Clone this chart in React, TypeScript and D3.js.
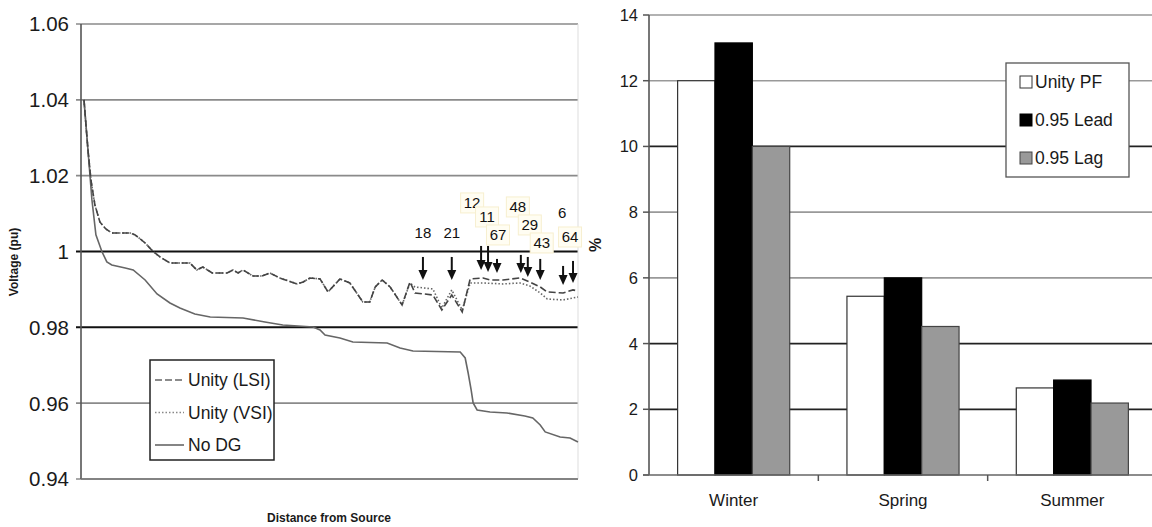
import React from "react";
import * as d3 from "d3";

// ---------- Left chart data (distance in arbitrary units 0-100, voltage pu) ----------
const noDgDist = [0.6, 1.4, 2.2, 3.0, 4.2, 5.2, 6.2, 8.9, 10.5, 12.9, 15.3, 17.9, 19.9, 22.9, 26, 32.6, 37, 40.6, 46.7, 48.1, 49.1, 52.1, 54.7, 61.6, 64.2, 66.8, 76.3, 77.3, 77.9, 78.5, 78.9, 79.7, 82.3, 85.7, 89.3, 90.9, 92.4, 93.4, 96.4, 98.4, 100];
const noDgVolt = [1.04, 1.0268, 1.0136, 1.0044, 1.0, 0.99724, 0.99644, 0.99566, 0.99513, 0.99249, 0.9888, 0.98643, 0.9851, 0.98352, 0.98273, 0.98247, 0.98141, 0.98062, 0.98009, 0.9793, 0.97798, 0.97719, 0.97614, 0.97587, 0.97455, 0.97377, 0.9735, 0.97192, 0.96796, 0.96349, 0.96006, 0.95821, 0.95768, 0.95742, 0.95663, 0.9561, 0.95426, 0.95241, 0.95109, 0.95083, 0.94977];

const lsiDist = [0.6, 1.4, 2.0, 2.8, 3.8, 5.0, 6.2, 9.9, 10.9, 12.9, 14.5, 15.9, 17.9, 21.9, 23.3, 24.5, 26.4, 29.4, 30.6, 31.6, 32.6, 34.6, 36.4, 38.0, 40.0, 43.5, 44.7, 46.1, 48.1, 49.7, 52.1, 54.1, 56.7, 58.1, 59.2, 60.6, 62.2, 64.6, 66.2, 67.2, 70.8, 72.6, 74.6, 76.7, 78.3, 80.9, 82.3, 84.9, 88.3, 90.3, 92.4, 93.8, 97.0, 99.0, 100];
const lsiVolt = [1.04, 1.0268, 1.01886, 1.01227, 1.00779, 1.00594, 1.00489, 1.00489, 1.00436, 1.00225, 1.0, 0.99856, 0.99698, 0.99698, 0.99513, 0.99592, 0.99434, 0.99434, 0.99513, 0.99434, 0.99513, 0.99355, 0.99355, 0.99434, 0.99302, 0.99144, 0.99196, 0.99302, 0.99276, 0.98933, 0.99276, 0.9917, 0.98669, 0.98669, 0.99065, 0.99249, 0.99065, 0.9859, 0.99196, 0.98906, 0.98854, 0.98458, 0.98854, 0.98405, 0.99276, 0.99302, 0.99249, 0.99249, 0.99302, 0.99196, 0.99065, 0.98933, 0.98906, 0.98986, 0.9896];

const vsiDist = [0.6, 1.4, 2.0, 2.8, 3.8, 5.0, 6.2, 9.9, 10.9, 12.9, 14.5, 15.9, 17.9, 21.9, 23.3, 24.5, 26.4, 29.4, 30.6, 31.6, 32.6, 34.6, 36.4, 38.0, 40.0, 43.5, 44.7, 46.1, 48.1, 49.7, 52.1, 54.1, 56.7, 58.1, 59.2, 60.6, 62.2, 64.6, 66.2, 67.2, 70.8, 72.6, 74.6, 76.7, 78.3, 80.9, 84.9, 88.3, 90.3, 92.4, 93.8, 97.0, 100];
const vsiVolt = [1.04, 1.0268, 1.01886, 1.01227, 1.00779, 1.00594, 1.00489, 1.00489, 1.00436, 1.00225, 1.0, 0.99856, 0.99698, 0.99698, 0.99513, 0.99592, 0.99434, 0.99434, 0.99513, 0.99434, 0.99513, 0.99355, 0.99355, 0.99434, 0.99302, 0.99144, 0.99196, 0.99302, 0.99276, 0.98933, 0.99276, 0.9917, 0.98669, 0.98669, 0.99065, 0.99249, 0.99065, 0.9859, 0.9917, 0.99065, 0.99012, 0.98511, 0.98986, 0.98458, 0.9917, 0.9917, 0.99144, 0.9917, 0.99091, 0.98906, 0.98748, 0.98722, 0.988];

const voltTicks = [0.94, 0.96, 0.98, 1.0, 1.02, 1.04, 1.06];
const voltTickLabels = ["0.94", "0.96", "0.98", "1", "1.02", "1.04", "1.06"];
const voltDarkLines = [0.98, 1.0];

// bus annotations
const busNames = ["18", "21", "12", "11", "67", "48", "29", "43", "6", "64"];
const busArrowDist = [68.8, 74.6, 80.5, 81.9, 83.7, 88.5, 89.9, 92.4, 97.0, 99.0];
const busArrowTop = [0.99856, 0.99856, 1.00146, 1.00146, 0.99804, 0.9991, 0.99856, 0.99804, 0.99619, 0.99751];
const busArrowTip = [0.9925, 0.9925, 0.99513, 0.9946, 0.99434, 0.99434, 0.99328, 0.9925, 0.99117, 0.9917];
const busLabelDist = [68.8, 74.6, 78.7, 81.7, 83.9, 87.9, 90.3, 92.7, 96.8, 98.4];
const busLabelVolt = [1.00489, 1.00489, 1.01281, 1.00911, 1.00436, 1.01175, 1.00700, 1.00225, 1.01018, 1.00383];
const busBoxed = [false, false, true, true, true, true, true, true, false, true];

const legendLeft = ["Unity (LSI)", "Unity (VSI)", "No DG"];

// ---------- Right chart data ----------
const seasons = ["Winter", "Spring", "Summer"];
const pfSeries = ["Unity PF", "0.95 Lead", "0.95 Lag"];
const unityPF = [12.0, 5.44, 2.65];
const lead095 = [13.15, 6.0, 2.89];
const lag095 = [10.0, 4.52, 2.19];
const pctTicks = [0, 2, 4, 6, 8, 10, 12, 14];
const pctDarkLines = [2, 4, 10];

const FONT = "'Liberation Sans', Arial, sans-serif";

export default function App() {
  // Left chart scales
  const xL = d3.scaleLinear().domain([0, 100]).range([81, 578]);
  const yL = d3.scaleLinear().domain([0.94, 1.06]).range([479, 24]);
  const lineGen = (dist: number[], volt: number[]) =>
    d3.line<number>().x((_, i) => xL(dist[i])).y((v) => yL(v))(volt) || "";

  // Right chart scales
  const xR = d3.scaleBand<string>().domain(seasons).range([649, 1157]).paddingInner(0.338).paddingOuter(0.169);
  const xSub = d3.scaleBand<string>().domain(pfSeries).range([0, xR.bandwidth()]);
  const yR = d3.scaleLinear().domain([0, 14]).range([475, 15]);
  const seriesVals = [unityPF, lead095, lag095];
  const fills = ["#ffffff", "#000000", "#999999"];
  const strokes = ["#333333", "#000000", "#444444"];

  const catStep = xR.step();
  const catStart = 649;

  return (
    <svg width={1152} height={527} style={{ position: "absolute", left: 0, top: 0, background: "#fff" }} fontFamily={FONT}>
      <rect x={0} y={0} width={1152} height={527} fill="#fff" />
      {/* ===== LEFT CHART ===== */}
      {voltTicks.map((t, i) => {
        const dark = voltDarkLines.includes(t);
        return (
          <g key={"vt" + i}>
            <line x1={76} x2={578} y1={yL(t)} y2={yL(t)} stroke={dark ? "#111" : "#8a8a8a"} strokeWidth={dark ? 2 : 1.6} />
            <text x={69} y={yL(t)} dy="0.36em" textAnchor="end" fontSize={20.5} fill="#1a1a1a">{voltTickLabels[i]}</text>
          </g>
        );
      })}
      <line x1={578} x2={578} y1={24} y2={479} stroke="#ddd" strokeWidth={1} />
      <line x1={81} x2={81} y1={24} y2={479} stroke="#555" strokeWidth={1.6} />
      <line x1={81} x2={578} y1={479} y2={479} stroke="#777" strokeWidth={1.6} />

      <path d={lineGen(noDgDist, noDgVolt)} fill="none" stroke="#666" strokeWidth={1.6} />
      <path d={lineGen(vsiDist, vsiVolt)} fill="none" stroke="#666" strokeWidth={1.6} strokeDasharray="1.5,2" />
      <path d={lineGen(lsiDist, lsiVolt)} fill="none" stroke="#444" strokeWidth={1.6} strokeDasharray="7,3" />

      {busNames.map((b, i) => {
        const ax = xL(busArrowDist[i]);
        const top = yL(busArrowTop[i]);
        const tip = yL(busArrowTip[i]);
        const lx = xL(busLabelDist[i]);
        const ly = yL(busLabelVolt[i]);
        const w = b.length * 8.5 + 6;
        return (
          <g key={"bus" + i}>
            {busBoxed[i] && (
              <rect x={lx - w / 2} y={ly - 10} width={w} height={20} fill="#fffdf2" stroke="#f7efcf" strokeWidth={1} />
            )}
            <text x={lx} y={ly} dy="0.36em" textAnchor="middle" fontSize={15} fill="#111">{b}</text>
            <line x1={ax} x2={ax} y1={top} y2={tip - 8} stroke="#111" strokeWidth={2} />
            <path d={`M${ax - 4.5},${tip - 10} L${ax + 4.5},${tip - 10} L${ax},${tip} Z`} fill="#111" />
          </g>
        );
      })}

      {/* left legend */}
      <rect x={150} y={360} width={124} height={100} fill="#fff" stroke="#222" strokeWidth={1.5} />
      {legendLeft.map((s, i) => {
        const y = 380 + i * 32.5;
        const dash = i === 0 ? "7,3" : i === 1 ? "1.5,2" : undefined;
        return (
          <g key={"ll" + i}>
            <line x1={155} x2={184} y1={y} y2={y} stroke={i === 1 ? "#888" : "#666"} strokeWidth={1.6} strokeDasharray={dash} />
            <text x={188} y={y} dy="0.36em" fontSize={17.5} fill="#1a1a1a">{s}</text>
          </g>
        );
      })}

      <text transform="translate(18,262) rotate(-90)" textAnchor="middle" fontSize={12} fontWeight="bold" fill="#1a1a1a">Voltage (pu)</text>
      <text x={329} y={522} textAnchor="middle" fontSize={12} fontWeight="bold" fill="#1a1a1a">Distance from Source</text>

      {/* ===== RIGHT CHART ===== */}
      {pctTicks.map((t, i) => {
        const dark = pctDarkLines.includes(t);
        return (
          <g key={"pt" + i}>
            {t > 0 && (
              <line x1={649} x2={1152} y1={yR(t)} y2={yR(t)} stroke={dark ? "#222" : "#999"} strokeWidth={dark ? 1.8 : 1.6} />
            )}
            <line x1={643} x2={649} y1={yR(t)} y2={yR(t)} stroke="#555" strokeWidth={1.5} />
            <text x={638} y={yR(t)} dy="0.36em" textAnchor="end" fontSize={16.5} fill="#1a1a1a">{t}</text>
          </g>
        );
      })}

      {seasons.map((s, ci) => (
        <g key={"grp" + ci}>
          {pfSeries.map((p, si) => {
            const v = seriesVals[si][ci];
            const x = (xR(s) || 0) + (xSub(p) || 0);
            return (
              <rect key={p} x={x} y={yR(v)} width={xSub.bandwidth()} height={yR(0) - yR(v)} fill={fills[si]} stroke={strokes[si]} strokeWidth={1.2} />
            );
          })}
          <text x={(xR(s) || 0) + xR.bandwidth() / 2} y={506} textAnchor="middle" fontSize={17} fill="#1a1a1a">{s}</text>
        </g>
      ))}
      <line x1={649} x2={649} y1={15} y2={475} stroke="#555" strokeWidth={1.6} />
      <line x1={643} x2={1152} y1={475} y2={475} stroke="#666" strokeWidth={1.6} />
      {seasons.map((s, ci) => (
        <line key={"ct" + ci} x1={catStart + catStep * (ci + 1)} x2={catStart + catStep * (ci + 1)} y1={475} y2={481} stroke="#555" strokeWidth={1.5} />
      ))}
      <text transform="translate(601,245) rotate(-90)" textAnchor="middle" fontSize={16} fontWeight="bold" fill="#1a1a1a">%</text>

      {/* right legend */}
      <rect x={1006} y={63} width={123} height={114} fill="#fff" stroke="#555" strokeWidth={1.3} />
      {pfSeries.map((p, i) => {
        const y = 82 + i * 38;
        return (
          <g key={"rl" + i}>
            <rect x={1020} y={y - 6} width={12} height={12} fill={fills[i]} stroke={strokes[i]} strokeWidth={1} />
            <text x={1035} y={y} dy="0.36em" fontSize={17.5} fill="#1a1a1a">{p}</text>
          </g>
        );
      })}
    </svg>
  );
}
